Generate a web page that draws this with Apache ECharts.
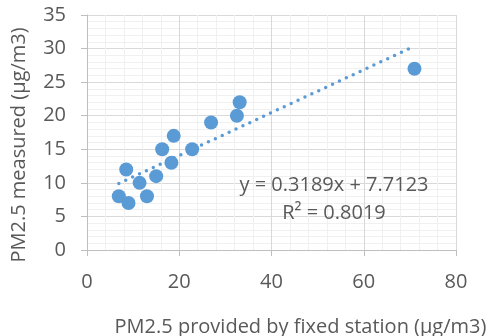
<!DOCTYPE html>
<html><head><meta charset="utf-8">
<script src="https://cdn.jsdelivr.net/npm/echarts@6/dist/echarts.min.js"></script>
<style>html,body{margin:0;padding:0;background:#fff}#c{width:492px;height:336px}</style>
</head><body><div id="c"></div>
<script>
const xValues = [6.9, 9.0, 8.5, 11.4, 13.0, 15.0, 16.3, 18.3, 18.8, 22.8, 26.9, 32.5, 33.1, 71.0];
const yValues = [8, 7, 12, 10, 8, 11, 15, 13, 17, 15, 19, 20, 22, 27];
const slope = 0.3189, intercept = 7.7123, r2 = 0.8019;
const xTicks = [0, 20, 40, 60, 80];
const yTicks = [0, 5, 10, 15, 20, 25, 30, 35];

const pts = xValues.map((x, i) => [x, yValues[i]]);
const xmin = Math.min(...xValues), xmax = Math.max(...xValues);
const trend = [[xmin, slope * xmin + intercept], [xmax, slope * xmax + intercept]];
const F = 'Open Sans, sans-serif';
const TC = '#595959';
const FS = 20;
const chart = echarts.init(document.getElementById('c'));
chart.setOption({
  animation: false,
  grid: {left: 87, right: 36, top: 15, bottom: 86, containLabel: false, outerBoundsMode: 'none'},
  xAxis: {
    type: 'value', min: xTicks[0], max: xTicks[xTicks.length - 1], interval: 20,
    name: 'PM2.5 provided by fixed station (μg/m3)', nameLocation: 'middle', nameGap: 67,
    nameTextStyle: {color: TC, fontSize: FS, fontFamily: F, padding: [0, 0, 0, 58]},
    axisLine: {show: true, lineStyle: {color: '#bfbfbf', width: 1}},
    axisTick: {show: true, length: 6, lineStyle: {color: '#bfbfbf'}},
    axisLabel: {color: TC, fontSize: FS, fontFamily: F, margin: 22},
    splitLine: {show: true, lineStyle: {color: '#d9d9d9', width: 1}},
    minorTick: {show: false, splitNumber: 5},
    minorSplitLine: {show: true, lineStyle: {color: '#f0f0f0', width: 1}}
  },
  yAxis: {
    type: 'value', min: yTicks[0], max: yTicks[yTicks.length - 1], interval: 5,
    name: 'PM2.5 measured (μg/m3)', nameLocation: 'middle', nameGap: 58,
    nameTextStyle: {color: TC, fontSize: FS, fontFamily: F, padding: [0, 25, 0, 0]},
    axisLine: {show: true, lineStyle: {color: '#bfbfbf', width: 1}},
    axisTick: {show: true, length: 6, lineStyle: {color: '#bfbfbf'}},
    axisLabel: {color: TC, fontSize: FS, fontFamily: F, margin: 21},
    splitLine: {show: true, lineStyle: {color: '#d9d9d9', width: 1}},
    minorTick: {show: false, splitNumber: 5},
    minorSplitLine: {show: true, lineStyle: {color: '#f0f0f0', width: 1}}
  },
  series: [
    {type: 'line', data: trend, symbol: 'none', silent: true,
     lineStyle: {color: '#5B9BD5', width: 3.5, type: [0, 7.6], cap: 'round'}, z: 2},
    {type: 'scatter', data: pts, symbol: 'circle', symbolSize: 14,
     itemStyle: {color: '#5B9BD5', opacity: 1}, z: 3}
  ],
  graphic: [
    {type: 'text', x: 334, y: 185, z: 100, style: {text: 'y = ' + slope + 'x + ' + intercept, fill: TC, font: FS + 'px ' + F, align: 'center', verticalAlign: 'middle'}},
    {type: 'text', x: 334, y: 213, z: 100, style: {text: 'R² = ' + r2, fill: TC, font: FS + 'px ' + F, align: 'center', verticalAlign: 'middle'}}
  ]
});
</script></body></html>
